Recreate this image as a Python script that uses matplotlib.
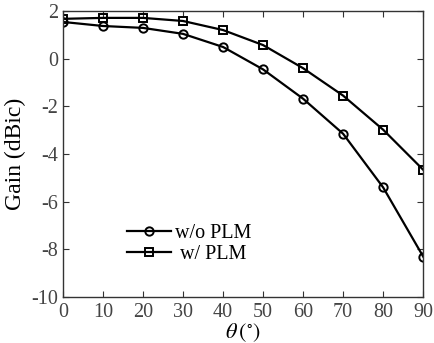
import matplotlib
matplotlib.use("Agg")
import matplotlib.pyplot as plt

# data
theta = [0, 10, 20, 30, 40, 50, 60, 70, 80, 90]
gain_wo_plm = [1.54, 1.37, 1.29, 1.04, 0.49, -0.45, -1.68, -3.15, -5.4, -8.3]
gain_w_plm = [1.67, 1.71, 1.71, 1.58, 1.2, 0.57, -0.4, -1.55, -2.98, -4.66]

plt.rcParams["font.family"] = ["Liberation Serif", "DejaVu Serif"]
plt.rcParams["mathtext.fontset"] = "stix"
plt.rcParams["axes.unicode_minus"] = False

fig = plt.figure(figsize=(4.34, 3.43), dpi=100)
ax = fig.add_axes([0.145, 0.134, 0.83, 0.834])

ax.plot(theta, gain_wo_plm, "k-o", lw=1.6, ms=6, mfc="none", mew=1.4, label="w/o PLM")
ax.plot(theta, gain_w_plm, "k-s", lw=1.6, ms=6, mfc="none", mew=1.4, label=" w/ PLM")

ax.set_xlim(0, 90)
ax.set_ylim(-10, 2)
ax.set_xticks(range(0, 91, 10))
ax.set_yticks(range(-10, 3, 2))
ax.tick_params(direction="in", top=True, right=True, labelsize=14.5, length=4,
               colors="#333333", labelcolor="#444444")
ax.tick_params(axis="x", pad=4)
for s in ax.spines.values():
    s.set_linewidth(1.0)
    s.set_color("#333333")

ax.set_ylabel("Gain (dBic)", fontsize=17, labelpad=4)
ax.set_xlabel(r"$\theta\,(^{\circ})$", fontsize=16, labelpad=0)

ax.legend(loc="lower left", bbox_to_anchor=(0.15, 0.08), frameon=False, fontsize=14.5,
          handlelength=2.2, handletextpad=0.2, labelspacing=0.1, borderpad=0)

fig.savefig("out.png", dpi=100)
